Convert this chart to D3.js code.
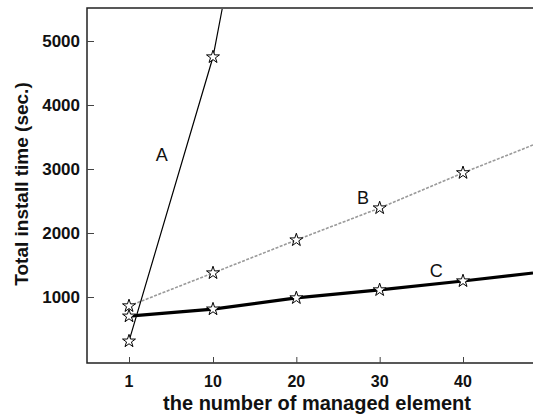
<!DOCTYPE html>
<html>
<head>
<meta charset="utf-8">
<script src="https://cdn.jsdelivr.net/npm/d3@7"></script>
<style>
  body { margin: 0; background: #fff; }
  svg { display: block; }
  text { font-family: "Liberation Sans", Arial, sans-serif; fill: #111; }
</style>
</head>
<body>
<div id="chart"></div>
<script>
// values
var xValues = [1, 10, 20, 30, 40];
var xTicks = [1, 10, 20, 30, 40];
var yTicks = [1000, 2000, 3000, 4000, 5000];

// marker values (A only has the first two points)
var seriesA = [310, 4750];
var seriesB = [860, 1375, 1890, 2390, 2940];
var seriesC = [700, 810, 985, 1110, 1250];

// where each line leaves the frame [x, y]
var endA = [11.1, 5500];
var endB = [48.4, 3375];
var endC = [48.4, 1375];

var seriesNames = ["A", "B", "C"];
var labelPos = [[4.5, 3220], [28, 2550], [36.8, 1420]];

var opt = {
  width: 533, height: 420,
  left: 87, right: 533, top: 8, bottom: 363
};

var svg = d3.select("#chart").append("svg")
  .attr("width", opt.width)
  .attr("height", opt.height);

// the x axis is not evenly spaced between 1 and 10 in the original
var xScale = d3.scaleLinear().domain([1, 10, 48.4]).range([129, 213, 533]);
var yScale = d3.scaleLinear().domain([0, 5500]).range([361, 9]);

// frame
var frame = svg.append("g").attr("class", "frame")
  .style("stroke", "#222").style("stroke-width", 1.5).style("fill", "none");
frame.append("path")
  .attr("d", "M" + opt.right + "," + opt.top + "H" + opt.left + "V" + opt.bottom + "H" + opt.right);

// axes, ticks pointing inwards
svg.append("g")
  .attr("transform", "translate(" + opt.left + ",0)")
  .call(d3.axisRight(yScale).tickValues(yTicks).tickSize(7).tickFormat(""))
  .call(g => g.select(".domain").remove())
  .call(g => g.selectAll("line").style("stroke", "#444"));
svg.append("g").selectAll("text")
  .data(yTicks).enter()
  .append("text")
  .attr("x", 80)
  .attr("y", d => yScale(d))
  .attr("dy", "0.36em")
  .style("text-anchor", "end")
  .style("font-weight", "bold")
  .style("font-size", "17px")
  .text(d => d);

svg.append("g")
  .attr("transform", "translate(0," + opt.bottom + ")")
  .call(d3.axisTop(xScale).tickValues(xTicks).tickSize(6).tickFormat(""))
  .call(g => g.select(".domain").remove())
  .call(g => g.selectAll("line").style("stroke", "#444"));
svg.append("g").selectAll("text")
  .data(xTicks).enter()
  .append("text")
  .attr("x", d => xScale(d))
  .attr("y", 387)
  .style("text-anchor", "middle")
  .style("font-weight", "bold")
  .style("font-size", "16px")
  .text(d => d);

// axis titles
svg.append("text")
  .attr("transform", "translate(28,184) rotate(-90)")
  .style("text-anchor", "middle")
  .style("font-weight", "bold")
  .style("font-size", "19px")
  .text("Total install time (sec.)");
svg.append("text")
  .attr("x", 317)
  .attr("y", 410)
  .style("text-anchor", "middle")
  .style("font-weight", "bold")
  .style("font-size", "20px")
  .text("the number of managed element");

// lines
function pts(vals, end) {
  var p = vals.map((v, i) => [xScale(xValues[i]), yScale(v)]);
  p.push([xScale(end[0]), yScale(end[1])]);
  return p;
}
var line = d3.line();
var plot = svg.append("g").attr("class", "lines").style("fill", "none");
plot.append("path")
  .attr("d", line(pts(seriesB, endB)))
  .style("stroke", "#9a9a9a").style("stroke-width", 1.6)
  .style("stroke-dasharray", "3,1.5");
plot.append("path")
  .attr("d", line(pts(seriesC, endC)))
  .style("stroke", "#000").style("stroke-width", 3.2);
plot.append("path")
  .attr("d", line(pts(seriesA, endA)))
  .style("stroke", "#000").style("stroke-width", 1.2);

// star markers
var star = d3.symbol().type(d3.symbolStar).size(52);
[seriesA, seriesB, seriesC].forEach(function(s) {
  svg.append("g").selectAll("path")
    .data(s).enter()
    .append("path")
    .attr("d", star)
    .attr("transform", (d, i) => "translate(" + xScale(xValues[i]) + "," + yScale(d) + ")")
    .style("fill", "#fff")
    .style("stroke", "#000")
    .style("stroke-width", 1);
});

// series labels
svg.append("g").selectAll("text")
  .data(seriesNames).enter()
  .append("text")
  .attr("x", (d, i) => xScale(labelPos[i][0]))
  .attr("y", (d, i) => yScale(labelPos[i][1]))
  .attr("dy", "0.36em")
  .style("text-anchor", "middle")
  .style("font-size", "18px")
  .text(d => d);
</script>
</body>
</html>
